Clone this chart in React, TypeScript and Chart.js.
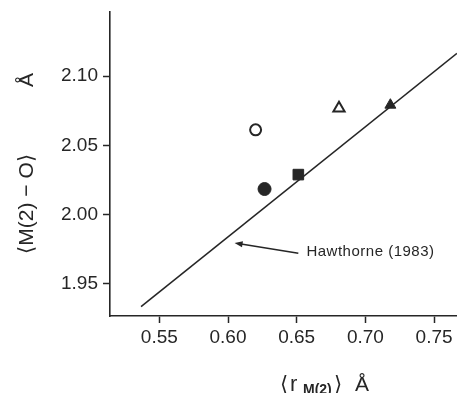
import React, { useEffect, useRef } from "react";
import { Chart, registerables } from "chart.js";

Chart.register(...registerables);

// ---- data ----
const xTicks = [0.55, 0.6, 0.65, 0.7, 0.75];
const yTicks = [1.95, 2.0, 2.05, 2.1];
const xRange = [0.5141, 0.7667];
const yRange = [1.9269, 2.1462];

// Hawthorne (1983) regression line end points
const lineX = [0.5367, 0.7667];
const lineY = [1.9336, 2.1164];

const openCircle = [{ x: 0.6201, y: 2.0612 }];
const filledCircle = [{ x: 0.6266, y: 2.0185 }];
const filledSquare = [{ x: 0.6512, y: 2.0289 }];
const openTriangle = [{ x: 0.6808, y: 2.0767 }];
const filledTriangle = [{ x: 0.7182, y: 2.0791 }];

// annotation arrow: head, tail, label anchor (data units)
const arrowHead = { x: 0.6048, y: 1.9796 };
const arrowTail = { x: 0.6512, y: 1.9721 };
const labelPos = { x: 0.6571, y: 1.9702 };
const labelText = "Hawthorne (1983)";

const INK = "#262626";
const FONT = "'Liberation Sans', Arial, Helvetica, sans-serif";

const annotPlugin = {
  id: "annot",
  afterDraw(chart: any) {
    const ctx = chart.ctx as CanvasRenderingContext2D;
    const xs = chart.scales.x;
    const ys = chart.scales.y;
    ctx.save();
    ctx.fillStyle = INK;
    ctx.strokeStyle = INK;

    // arrow
    const hx = xs.getPixelForValue(arrowHead.x);
    const hy = ys.getPixelForValue(arrowHead.y);
    const tx = xs.getPixelForValue(arrowTail.x);
    const ty = ys.getPixelForValue(arrowTail.y);
    const ang = Math.atan2(hy - ty, hx - tx);
    ctx.lineWidth = 1.5;
    ctx.beginPath();
    ctx.moveTo(tx, ty);
    ctx.lineTo(hx - Math.cos(ang) * 5, hy - Math.sin(ang) * 5);
    ctx.stroke();
    const L = 8, W = 3;
    ctx.beginPath();
    ctx.moveTo(hx, hy);
    ctx.lineTo(hx - L * Math.cos(ang) + W * Math.sin(ang), hy - L * Math.sin(ang) - W * Math.cos(ang));
    ctx.lineTo(hx - L * Math.cos(ang) - W * Math.sin(ang), hy - L * Math.sin(ang) + W * Math.cos(ang));
    ctx.closePath();
    ctx.fill();

    // label
    ctx.font = `15px ${FONT}`;
    (ctx as any).letterSpacing = "0.5px";
    ctx.textAlign = "left";
    ctx.textBaseline = "alphabetic";
    ctx.fillText(labelText, xs.getPixelForValue(labelPos.x), ys.getPixelForValue(labelPos.y));
    (ctx as any).letterSpacing = "0px";

    // y-axis title (rotated)
    ctx.save();
    ctx.translate(33, 204);
    ctx.rotate(-Math.PI / 2);
    ctx.textAlign = "center";
    ctx.font = `21px ${FONT}`;
    ctx.fillText("\u27E8M(2) \u2212 O\u27E9", 0, 0);
    ctx.fillText("\u00C5", 124, 0);
    ctx.restore();

    // x-axis title
    const base = 391;
    ctx.textAlign = "left";
    ctx.font = `21px ${FONT}`;
    ctx.fillText("\u27E8", 280, base);
    ctx.font = `22px ${FONT}`;
    ctx.fillText("r", 290, base);
    ctx.font = `bold 14px ${FONT}`;
    ctx.fillText("M(2)", 303, base + 3);
    ctx.font = `21px ${FONT}`;
    ctx.fillText("\u27E9", 334, base);
    ctx.fillText("\u00C5", 355, base);
    ctx.restore();
  },
};

export default function App() {
  const ref = useRef<HTMLCanvasElement>(null);
  useEffect(() => {
    document.body.style.margin = "0";
    const canvas = ref.current!;
    const pt = (data: any[], style: string, filled: boolean, r: number) => ({
      type: "scatter" as const,
      data,
      pointStyle: style,
      pointRadius: r,
      pointHoverRadius: r,
      backgroundColor: filled ? INK : "#ffffff",
      borderColor: INK,
      borderWidth: filled ? 1 : 2,
    });
    const chart = new Chart(canvas, {
      type: "scatter",
      data: {
        datasets: [
          {
            type: "line",
            data: lineX.map((x, i) => ({ x, y: lineY[i] })),
            borderColor: INK,
            borderWidth: 1.6,
            pointRadius: 0,
            fill: false,
          } as any,
          pt(openCircle, "circle", false, 5.5),
          pt(filledCircle, "circle", true, 6.5),
          pt(filledSquare, "rect", true, 7.5),
          pt(openTriangle, "triangle", false, 6.5),
          pt(filledTriangle, "triangle", true, 6.3),
        ],
      },
      options: {
        animation: false,
        responsive: false,
        layout: { autoPadding: false, padding: { top: 12, right: 0, left: 0, bottom: 0 } },
        plugins: { legend: { display: false }, tooltip: { enabled: false }, title: { display: false } },
        scales: {
          x: {
            type: "linear",
            min: xRange[0],
            max: xRange[1],
            afterBuildTicks: (s: any) => {
              s.ticks = xTicks.map((v) => ({ value: v }));
            },
            afterFit: (s: any) => {
              s.height = 77;
              s.paddingLeft = 0;
              s.paddingRight = 0;
            },
            border: { display: true, color: INK, width: 1.6 },
            grid: { drawOnChartArea: false, drawTicks: true, tickLength: 7, tickColor: INK, tickWidth: 1.5 },
            ticks: {
              color: INK,
              font: { family: FONT, size: 19 },
              padding: 3,
              maxRotation: 0,
              autoSkip: false,
              callback: (v: any) => Number(v).toFixed(2),
            },
          },
          y: {
            type: "linear",
            min: yRange[0],
            max: yRange[1],
            afterBuildTicks: (s: any) => {
              s.ticks = yTicks.map((v) => ({ value: v }));
            },
            afterFit: (s: any) => {
              s.width = 110;
              s.paddingTop = 0;
              s.paddingBottom = 0;
            },
            border: { display: true, color: INK, width: 1.6 },
            grid: { drawOnChartArea: false, drawTicks: true, tickLength: 7, tickColor: INK, tickWidth: 1.5 },
            ticks: {
              color: INK,
              font: { family: FONT, size: 19 },
              padding: 5,
              autoSkip: false,
              callback: (v: any) => Number(v).toFixed(2),
            },
          },
        },
      },
      plugins: [annotPlugin],
    });
    return () => chart.destroy();
  }, []);
  return <canvas ref={ref} width={457} height={393} style={{ display: "block" }} />;
}
